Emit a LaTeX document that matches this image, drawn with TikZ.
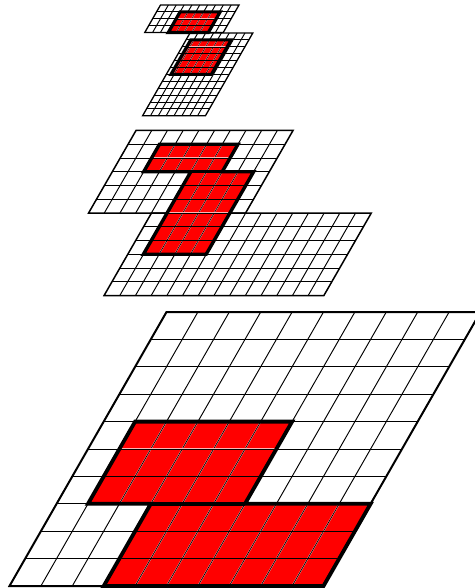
\documentclass[tikz,border=0pt]{standalone}
\newcommand{\gridcells}[7]{% x y cols rows cw rh dx
\begin{scope}[shift={(#1pt,-#2pt)},x={(#5pt,0pt)},y={(-#7pt,-#6pt)}]
\foreach \i in {1,...,\numexpr#3-1\relax} {\draw[thinline] (\i,0) -- (\i,#4);}
\foreach \j in {1,...,\numexpr#4-1\relax} {\draw[thinline] (0,\j) -- (#3,\j);}
\draw[frameline] (0,0) -- (#3,0) -- (#3,#4) -- (0,#4) -- cycle;
\end{scope}}
% x y cols rows cw rh dx polygon: red area with its grid lines and bold outline
\newcommand{\redarea}[8]{%
\begin{scope}[shift={(#1pt,-#2pt)},x={(#5pt,0pt)},y={(-#7pt,-#6pt)}]
\path[redzone] #8;
\begin{scope}
\clip #8;
\foreach \i in {1,...,\numexpr#3-1\relax} {\draw[haloline] (\i,0) -- (\i,#4);\draw[coreline] (\i,0) -- (\i,#4);}
\foreach \j in {1,...,\numexpr#4-1\relax} {\draw[haloline] (0,\j) -- (#3,\j);\draw[coreline] (0,\j) -- (#3,\j);}
\end{scope}
\draw[boldline] #8;
\end{scope}}
\begin{document}
\begin{tikzpicture}[x=1pt,y=1pt,line join=miter,
  thinline/.style={draw=black,line width=\thinw},
  haloline/.style={draw=white!70!red,line width=\halow},
  coreline/.style={draw=black,line width=\corew},
  frameline/.style={draw=black,line width=\framew},
  redzone/.style={draw=none,fill=red},
  boldline/.style={draw=black,line width=\boldw,line join=miter}]
\useasboundingbox (0,0) rectangle (474,-588);
% --- large level
\def\thinw{0.95pt}\def\halow{1.4pt}\def\corew{0.7pt}\def\framew{2pt}\def\boldw{3.8pt}
\gridcells{166.5}{312}{10}{10}{31.4}{27.4}{15.7}
\redarea{166.5}{312}{10}{10}{31.4}{27.4}{15.7}{(1,4) -- (6,4) -- (6,7) -- (10,7) -- (10,10) -- (3,10) -- (3,7) -- (1,7) -- cycle}
\begin{scope}[shift={(166.5pt,-312pt)},x={(31.4pt,0pt)},y={(-15.7pt,-27.4pt)}]
\draw[boldline] (3,7) -- (6,7);
\end{scope}
% --- middle level
\def\thinw{0.95pt}\def\halow{1.2pt}\def\corew{0.6pt}\def\framew{1.5pt}\def\boldw{3.4pt}
\gridcells{136}{130.5}{10}{6}{15.7}{13.75}{7.9}
\gridcells{151.5}{213}{14}{6}{15.7}{13.75}{7.9}
\redarea{136}{130.5}{16}{12}{15.7}{13.75}{7.9}{(2,1) -- (7,1) -- (7,3) -- (9,3) -- (9,9) -- (5,9) -- (5,3) -- (2,3) -- cycle}
\begin{scope}[shift={(136pt,-130.5pt)},x={(15.7pt,0pt)},y={(-7.9pt,-13.75pt)}]
\draw[boldline] (5,3) -- (7,3);
\end{scope}
% --- small level
\def\thinw{0.95pt}\def\halow{1.1pt}\def\corew{0.5pt}\def\framew{1.3pt}\def\boldw{3.2pt}
\gridcells{160.5}{5}{10}{4}{7.85}{6.9}{3.95}
\gridcells{190}{33}{8}{12}{7.85}{6.9}{3.95}
\redarea{160.5}{5}{10}{4}{7.85}{6.9}{3.95}{(3,1) -- (8.1,1) -- (8.1,4) -- (3,4) -- cycle}
\redarea{190}{33}{8}{12}{7.85}{6.9}{3.95}{(0.6,1) -- (5.75,1) -- (5.75,6) -- (0.6,6) -- cycle}
\end{tikzpicture}
\end{document}
